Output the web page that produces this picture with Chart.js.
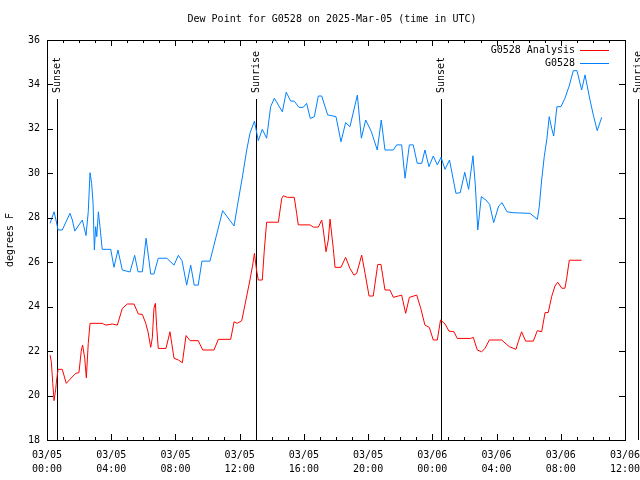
<!DOCTYPE html>
<html>
<head>
<meta charset="utf-8">
<script src="https://cdn.jsdelivr.net/npm/chart.js@4/dist/chart.umd.min.js"></script>
<style>
  html, body { margin: 0; padding: 0; background: #fff; }
  #wrap { width: 640px; height: 480px; }
</style>
</head>
<body>
<div id="wrap"><canvas id="chartCanvas" width="640" height="480"></canvas></div>
<script>
// hours since 03/05 00:00 UTC
const obsHours = [0.19, 0.44, 0.56, 0.69, 0.95, 1.43, 1.58, 1.73, 2.2, 2.3, 2.43, 2.57, 2.68, 2.78, 2.87, 2.95, 3.03, 3.1, 3.2, 3.3,
  3.44, 3.97, 4.17, 4.42, 4.69, 5.17, 5.46, 5.67, 5.94, 6.17, 6.46, 6.66, 6.93, 7.46, 7.91, 8.18, 8.41, 8.7, 8.95, 9.17,
  9.42, 9.65, 10.15, 10.94, 11.65, 11.85, 12.19, 12.44, 12.64, 12.92, 13.16, 13.41, 13.68, 13.93, 14.16, 14.41, 14.66, 14.9, 15.18, 15.4,
  15.69, 15.96, 16.17, 16.4, 16.65, 16.9, 17.11, 17.48, 18.0, 18.31, 18.6, 18.87, 19.33, 19.58, 19.85, 20.2, 20.57, 20.82, 21.05, 21.57,
  21.78, 22.09, 22.3, 22.57, 22.81, 23.06, 23.34, 23.54, 23.79, 24.06, 24.31, 24.54, 24.79, 25.07, 25.47, 25.74, 26.02, 26.26, 26.53, 26.68,
  26.83, 27.05, 27.34, 27.57, 27.82, 28.13, 28.34, 28.65, 28.96, 30.08, 30.54, 30.66, 30.81, 30.97, 31.14, 31.28, 31.43, 31.56, 31.76, 32.01,
  32.26, 32.51, 32.78, 33.01, 33.3, 33.51, 33.82, 34.05, 34.27, 34.55];
const obsDew = [27.75, 28.27, 27.9, 27.45, 27.45, 28.2, 27.9, 27.4, 27.9, 27.6, 27.2, 28.27, 30.03, 29.55, 28.65, 26.55, 27.6, 27.15, 28.27, 27.6,
  26.58, 26.58, 25.77, 26.55, 25.65, 25.56, 26.31, 25.57, 25.57, 27.08, 25.47, 25.47, 26.18, 26.18, 25.87, 26.31, 26.07, 24.97, 25.87, 24.97,
  24.97, 26.05, 26.05, 28.32, 27.63, 28.5, 29.92, 31.05, 31.8, 32.35, 31.47, 31.98, 31.58, 33.0, 33.38, 33.07, 32.77, 33.65, 33.25, 33.25,
  32.97, 32.97, 33.15, 32.47, 32.55, 33.48, 33.48, 32.63, 32.55, 31.42, 32.28, 32.1, 33.52, 31.58, 32.4, 31.88, 31.05, 32.4, 31.05, 31.05,
  31.28, 31.28, 29.78, 31.28, 31.28, 30.45, 30.45, 31.05, 30.3, 30.78, 30.38, 30.72, 30.18, 30.6, 29.1, 29.13, 30.05, 29.28, 30.79, 29.43,
  27.45, 28.95, 28.8, 28.6, 27.78, 28.53, 28.68, 28.27, 28.23, 28.2, 27.93, 28.5, 29.7, 30.75, 31.58, 32.55, 32.03, 31.68, 33.0, 33.0,
  33.38, 33.9, 34.62, 34.62, 33.75, 34.43, 33.3, 32.55, 31.92, 32.52];

const anaHours = [0.19, 0.27, 0.36, 0.44, 0.54, 0.6, 0.69, 0.95, 1.2, 1.43, 1.79, 1.99, 2.14, 2.22, 2.35, 2.45, 2.57, 2.68, 3.44, 3.66,
  4.07, 4.38, 4.69, 5.0, 5.42, 5.69, 5.94, 6.15, 6.29, 6.46, 6.56, 6.66, 6.75, 6.83, 6.93, 7.41, 7.66, 7.91, 8.18, 8.43,
  8.66, 8.91, 9.42, 9.7, 10.4, 10.67, 11.44, 11.65, 11.85, 12.13, 12.39, 12.64, 12.81, 12.92, 13.05, 13.16, 13.41, 13.53, 13.68, 14.41,
  14.62, 14.72, 14.97, 15.4, 15.55, 15.65, 16.38, 16.59, 16.9, 17.11, 17.21, 17.38, 17.52, 17.63, 17.83, 17.94, 18.31, 18.6, 18.87, 19.12,
  19.29, 19.6, 19.81, 20.06, 20.32, 20.6, 20.8, 21.05, 21.36, 21.57, 21.88, 22.09, 22.34, 22.57, 23.03, 23.28, 23.54, 23.81, 24.06, 24.31,
  24.51, 24.79, 25.04, 25.35, 25.55, 26.39, 26.55, 26.8, 27.07, 27.28, 27.55, 28.32, 28.79, 29.21, 29.35, 29.56, 29.81, 30.29, 30.54, 30.81,
  31.02, 31.22, 31.43, 31.64, 31.81, 32.06, 32.26, 32.37, 32.53, 33.3];
const anaDew = [21.82, 21.52, 20.55, 19.77, 20.28, 20.7, 21.18, 21.18, 20.55, 20.73, 21.0, 21.03, 22.05, 22.27, 21.68, 20.8, 22.35, 23.25, 23.25, 23.17,
  23.22, 23.17, 23.92, 24.12, 24.12, 23.67, 23.65, 23.25, 22.87, 22.17, 22.6, 23.92, 24.15, 23.1, 22.12, 22.12, 22.87, 21.68, 21.6, 21.48,
  22.7, 22.47, 22.47, 22.05, 22.05, 22.53, 22.53, 23.32, 23.25, 23.37, 24.3, 25.2, 25.87, 26.4, 25.65, 25.2, 25.2, 26.5, 27.8, 27.8,
  28.87, 28.99, 28.92, 28.92, 28.2, 27.68, 27.68, 27.58, 27.58, 27.9, 27.45, 26.47, 27.0, 27.94, 26.62, 25.77, 25.77, 26.22, 25.72, 25.42,
  25.5, 26.32, 25.5, 24.48, 24.48, 25.9, 25.9, 24.75, 24.75, 24.42, 24.48, 24.52, 23.7, 24.42, 24.52, 23.92, 23.17, 23.07, 22.5, 22.5,
  23.4, 23.22, 22.9, 22.87, 22.57, 22.57, 22.62, 22.05, 21.97, 22.12, 22.5, 22.5, 22.2, 22.08, 22.42, 22.87, 22.45, 22.45, 22.92, 22.87,
  23.73, 23.74, 24.45, 24.93, 25.1, 24.83, 24.83, 25.28, 26.09, 26.09];

const sunHours = [0.62, 13.0, 24.52, 36.81];
const sunLabels = ["Sunset", "Sunrise", "Sunset", "Sunrise"];
const xTickDates = ["03/05", "03/05", "03/05", "03/05", "03/05", "03/05", "03/06", "03/06", "03/06", "03/06"];
const xTickTimes = ["00:00", "04:00", "08:00", "12:00", "16:00", "20:00", "00:00", "04:00", "08:00", "12:00"];

const FONT = "DejaVu Sans Mono";

function toPoints(xs, ys) {
  return xs.map((x, i) => ({ x: x, y: ys[i] }));
}

const gnuplotDecor = {
  id: "gnuplotDecor",
  beforeDatasetsDraw(chart) {
    const ctx = chart.ctx;
    const area = chart.chartArea;
    const xs = chart.scales.x;
    ctx.save();
    ctx.strokeStyle = "#000";
    ctx.lineWidth = 1;
    ctx.fillStyle = "#000";
    ctx.font = "10px '" + FONT + "'";
    sunHours.forEach((h, i) => {
      const px = Math.round(xs.getPixelForValue(h)) + 0.5;
      ctx.beginPath();
      ctx.moveTo(px, area.top + 59);
      ctx.lineTo(px, area.bottom);
      ctx.stroke();
      ctx.save();
      ctx.translate(px, area.top + 53);
      ctx.rotate(-Math.PI / 2);
      ctx.textAlign = "left";
      ctx.textBaseline = "middle";
      ctx.fillText(sunLabels[i], 0, 0);
      ctx.restore();
    });
    ctx.restore();
  },
  afterDraw(chart) {
    const ctx = chart.ctx;
    const area = chart.chartArea;
    const xs = chart.scales.x;
    const ys = chart.scales.y;
    ctx.save();
    ctx.strokeStyle = "#000";
    ctx.lineWidth = 1;
    // frame
    ctx.strokeRect(Math.round(area.left) + 0.5, Math.round(area.top) + 0.5,
      Math.round(area.right - area.left), Math.round(area.bottom - area.top));
    // x ticks, inward, top and bottom
    ctx.beginPath();
    for (let h = 0; h <= 36; h++) {
      const px = Math.round(xs.getPixelForValue(h)) + 0.5;
      const len = h % 4 === 0 ? 6 : 3;
      ctx.moveTo(px, area.bottom);
      ctx.lineTo(px, area.bottom - len);
      ctx.moveTo(px, area.top);
      ctx.lineTo(px, area.top + len);
    }
    // y ticks, inward, left and right
    for (let v = 18; v <= 36; v += 2) {
      const py = Math.round(ys.getPixelForValue(v)) + 0.5;
      ctx.moveTo(area.left, py);
      ctx.lineTo(area.left + 6, py);
      ctx.moveTo(area.right, py);
      ctx.lineTo(area.right - 6, py);
    }
    ctx.stroke();

    // title
    ctx.fillStyle = "#000";
    ctx.font = "10px '" + FONT + "'";
    ctx.textAlign = "center";
    ctx.textBaseline = "middle";
    ctx.fillText("Dew Point for G0528 on 2025-Mar-05 (time in UTC)", 332, 19);

    // y axis title
    ctx.save();
    ctx.translate(10, (area.top + area.bottom) / 2);
    ctx.rotate(-Math.PI / 2);
    ctx.fillText("degrees F", 0, 0);
    ctx.restore();

    // legend
    const items = [["G0528 Analysis", "#ff0000"], ["G0528", "#0080ff"]];
    items.forEach((it, i) => {
      const y = area.top + 10 + i * 13;
      ctx.textAlign = "right";
      ctx.fillStyle = "#000";
      ctx.fillText(it[0], area.right - 50, y);
      ctx.strokeStyle = it[1];
      ctx.beginPath();
      ctx.moveTo(area.right - 45, Math.round(y) + 0.5);
      ctx.lineTo(area.right - 16, Math.round(y) + 0.5);
      ctx.stroke();
    });
    ctx.restore();
  }
};

const ctx = document.getElementById("chartCanvas").getContext("2d");
new Chart(ctx, {
  type: "line",
  data: {
    datasets: [{
      label: "G0528 Analysis",
      data: toPoints(anaHours, anaDew),
      borderColor: "#ff0000",
      borderWidth: 1,
      pointRadius: 0,
      tension: 0
    }, {
      label: "G0528",
      data: toPoints(obsHours, obsDew),
      borderColor: "#0080ff",
      borderWidth: 1,
      pointRadius: 0,
      tension: 0
    }]
  },
  options: {
    responsive: false,
    animation: false,
    layout: { padding: { top: 40, right: 15, left: 0, bottom: 0 } },
    plugins: {
      legend: { display: false },
      title: { display: false },
      tooltip: { enabled: false }
    },
    scales: {
      x: {
        type: "linear",
        min: 0,
        max: 36,
        grid: { display: false, drawTicks: false },
        border: { display: false },
        afterFit: (s) => { s.height = 40; s.paddingLeft = 0; s.paddingRight = 0; },
        afterBuildTicks: (s) => { s.ticks = xTickTimes.map((t, i) => ({ value: i * 4 })); },
        ticks: {
          autoSkip: false,
          maxRotation: 0,
          padding: 8,
          color: "#000",
          font: { family: FONT, size: 10, lineHeight: 1.4 },
          callback: (v, i) => [xTickDates[i], xTickTimes[i]]
        }
      },
      y: {
        min: 18,
        max: 36,
        grid: { display: false, drawTicks: false },
        border: { display: false },
        afterFit: (s) => { s.width = 47; },
        ticks: {
          stepSize: 2,
          padding: 7,
          color: "#000",
          font: { family: FONT, size: 10 }
        }
      }
    }
  },
  plugins: [gnuplotDecor]
});
</script>
</body>
</html>
